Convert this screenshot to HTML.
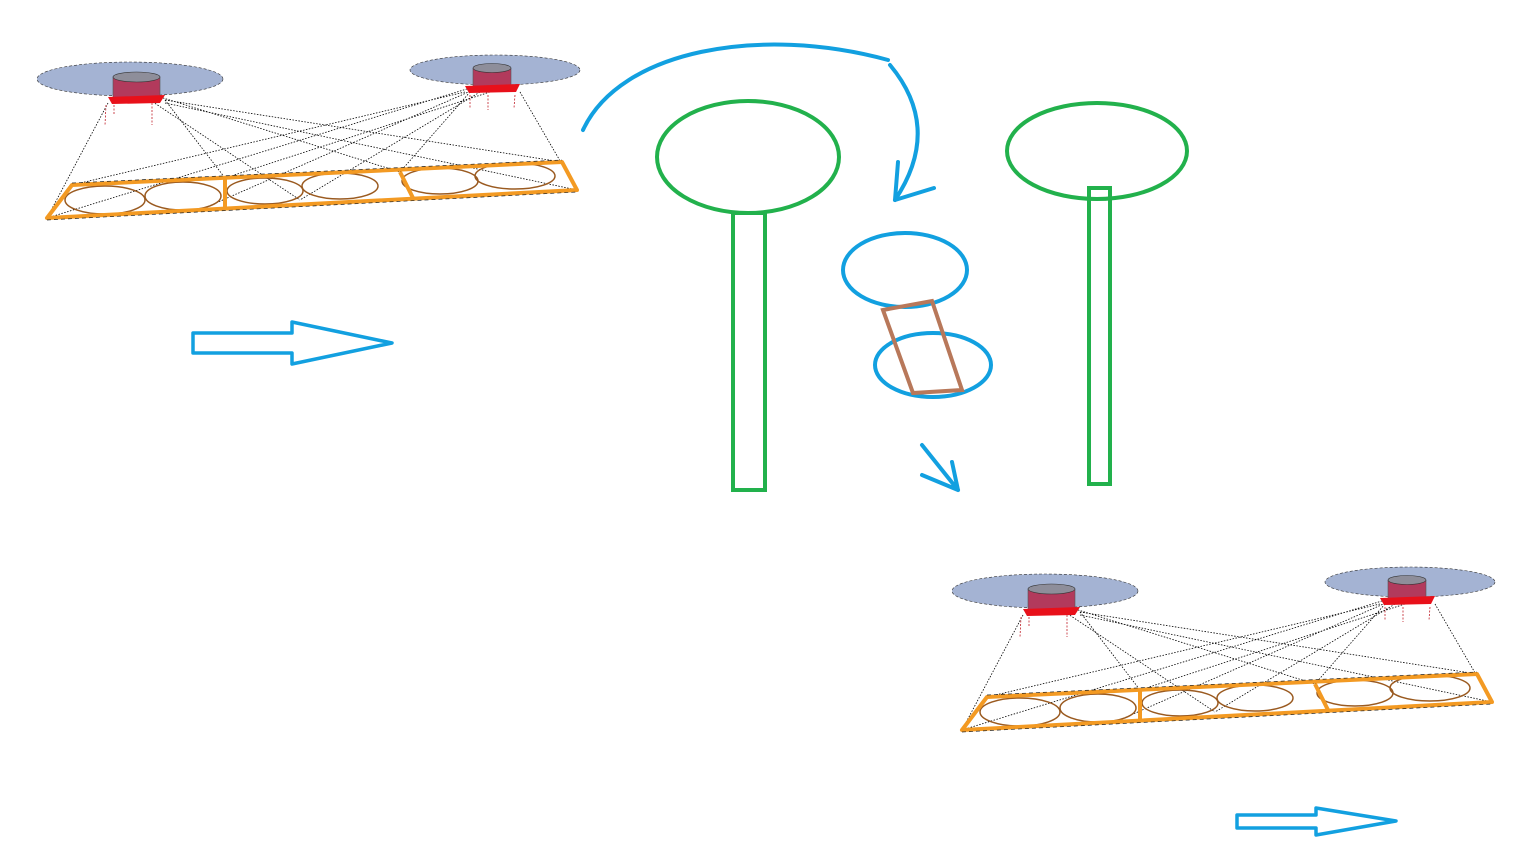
<!DOCTYPE html>
<html><head><style>html,body{margin:0;padding:0;background:#fff}svg{display:block}</style></head>
<body>
<svg width="1514" height="852" viewBox="0 0 1514 852" xmlns="http://www.w3.org/2000/svg">
<defs>
<g id="drone">
  <ellipse cx="130" cy="79" rx="93" ry="17" fill="#a4b3d3" stroke="#333" stroke-width="0.6" stroke-dasharray="3,2"/>
  <ellipse cx="495" cy="70" rx="85" ry="15" fill="#a4b3d3" stroke="#333" stroke-width="0.6" stroke-dasharray="3,2"/>
  <g stroke="#000" stroke-width="0.8" stroke-dasharray="1.5,1.5" fill="none">
    <path d="M108 103 L47 218 M165 100 L225 178 M165 100 L562 162 M160 97 L400 172 M165 103 L577 190 M150 100 L300 200"/>
    <path d="M465 92 L72 185 M470 88 L47 218 M473 90 L200 210 M520 92 L577 190 M470 92 L400 172 M480 92 L300 200 M490 92 L225 178"/>
  </g>
  <path d="M113 77 L113 98 Q137 104 160 98 L160 77" fill="#b23a5c" stroke="#555" stroke-width="0.6"/>
  <ellipse cx="136.5" cy="77" rx="23.5" ry="5" fill="#8e8e9a" stroke="#333" stroke-width="0.6"/>
  <path d="M108 97 L165 95 L160 103 L112 104 Z" fill="#e8101a"/>
  <path d="M473 68 L473 87 Q492 92 511 87 L511 68" fill="#b23a5c" stroke="#555" stroke-width="0.6"/>
  <ellipse cx="492" cy="68" rx="19" ry="4.5" fill="#8e8e9a" stroke="#333" stroke-width="0.6"/>
  <path d="M465 86 L520 84 L516 92 L469 93 Z" fill="#e8101a"/>
  <g stroke="#c0202a" stroke-width="0.8" stroke-dasharray="2,1.5">
    <path d="M106 105 L105 125 M114 105 L114 115 M152 103 L152 125 M470 95 L470 108 M488 95 L488 110 M515 95 L514 108"/>
  </g>
  <g fill="none" stroke="#9a5a20" stroke-width="1.5">
    <ellipse cx="105" cy="200" rx="40" ry="14"/>
    <ellipse cx="183" cy="196" rx="38" ry="14"/>
    <ellipse cx="265" cy="191" rx="38" ry="13"/>
    <ellipse cx="340" cy="186" rx="38" ry="13"/>
    <ellipse cx="440" cy="181" rx="38" ry="13"/>
    <ellipse cx="515" cy="176" rx="40" ry="13"/>
  </g>
  <g fill="none" stroke="#f39a23" stroke-width="4" stroke-linejoin="round">
    <path d="M47 218 L577 190 L562 162 L72 185 Z"/>
    <path d="M225 178 L225 210 M400 172 L414 200"/>
  </g>
  <g fill="none" stroke="#222" stroke-width="0.7" stroke-dasharray="4,3">
    <path d="M47 220 L577 192 M72 183 L562 160"/>
  </g>
</g>
</defs>
<use href="#drone"/>
<use href="#drone" transform="translate(915,512)"/>

<g fill="none" stroke="#12a0e0" stroke-width="4" stroke-linecap="round" stroke-linejoin="round">
  <path d="M193 333 L292 333 L292 322 L392 343 L292 364 L292 353 L193 353 Z" stroke-width="3.5"/>
  <path d="M1237 815 L1316 815 L1316 808 L1396 821 L1316 835 L1316 828 L1237 828 Z" stroke-width="3.5"/>
  <path d="M583 130 C620 50 760 25 888 60"/>
  <path d="M890 65 C915 95 935 140 895 200"/>
  <path d="M895 200 L898 162 M895 200 L934 188"/>
  <ellipse cx="905" cy="270" rx="62" ry="37"/>
  <ellipse cx="933" cy="365" rx="58" ry="32"/>
  <path d="M922 445 L958 490 M958 490 L922 475 M958 490 L952 462"/>
</g>
<path d="M883 310 L932 301 L962 390 L913 393 Z" fill="none" stroke="#b8785a" stroke-width="4"/>
<g fill="none" stroke="#22b14c" stroke-width="4">
  <ellipse cx="748" cy="157" rx="91" ry="56"/>
  <rect x="733" y="213" width="32" height="277"/>
  <ellipse cx="1097" cy="151" rx="90" ry="48"/>
  <rect x="1089" y="188" width="21" height="296"/>
</g>
</svg>
</body></html>
